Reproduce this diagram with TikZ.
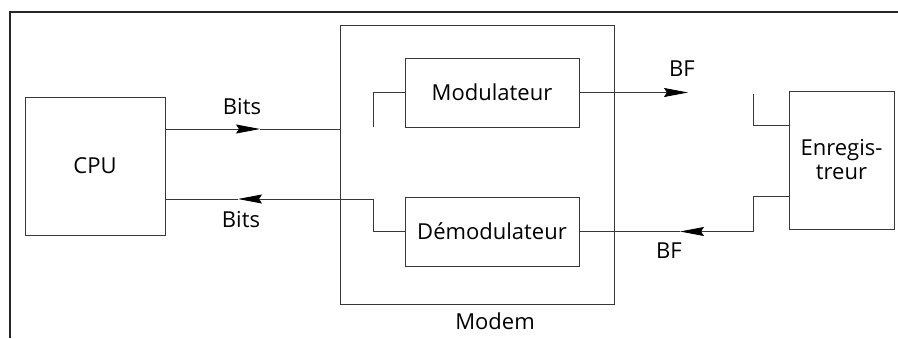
\documentclass[tikz,border=0pt]{standalone}
\usepackage{fontspec}
\setmainfont{Open Sans}
\usetikzlibrary{arrows.meta}
\begin{document}
\begin{tikzpicture}[x=1pt,y=-1pt,
  ln/.style={draw=black!78, line width=0.8pt},
  arr/.style={ln, -{Stealth[length=24pt,width=9pt,inset=3pt,color=black]}},
  blk/.style={ln, inner sep=0pt, font=\fontsize{22}{26}\selectfont},
  lbl/.style={inner sep=0pt, font=\fontsize{22}{26}\selectfont}]
\useasboundingbox (0,0) rectangle (898,338);
% frame
\coordinate (fTL) at (10,12);
\coordinate (fTR) at (898,12);
\coordinate (fBL) at (10,338);
\draw[draw=black!85, line width=1.5pt] (fTR) -- (fTL) -- (fBL);
% blocks
\node[blk, minimum width=140pt, minimum height=138pt] (cpu) at (95,166) {CPU};
\node[blk, minimum width=274pt, minimum height=279pt] (modem) at (477,164.5) {};
\node[blk, minimum width=174pt, minimum height=69pt] (mod) at (492,92.5) {Modulateur};
\node[blk, minimum width=174pt, minimum height=69pt] (dem) at (492,231.5) {Démodulateur};
\node[blk, minimum width=105pt, minimum height=138pt, align=center] (enr) at (841.5,160) {Enregis-\\[-2pt]treur};
% helper coordinates
\coordinate (yB1) at (0,129);
\coordinate (yB2) at (0,199);
\coordinate (tB1) at (260,129);
\coordinate (tB2) at (238,199);
\coordinate (mL) at (373,127);
\coordinate (dL) at (373,199);
\coordinate (tBF1) at (688,92.5);
\coordinate (tBF2) at (680,231.5);
\coordinate (eU) at (753,94);
\coordinate (eUc) at (753,125);
\coordinate (eLc) at (753,196);
\coordinate (eL) at (753,231.5);
% Bits forward
\draw[arr] (cpu.east |- yB1) -- (tB1);
\draw[ln] (tB1) -- (modem.west |- yB1);
% Bits back
\draw[arr] (modem.west |- yB2) -- (tB2);
\draw[ln] (tB2) -- (cpu.east |- yB2);
% modulator input stub
\draw[ln] (mod.west) -- (mod.west -| mL) -- (mL);
% demodulator input
\draw[ln] (modem.west |- yB2) -- (dL) -- (dL |- dem.west) -- (dem.west);
% modulator output
\draw[arr] (mod.east) -- (tBF1);
% demodulator output / BF back
\draw[ln] (dem.east) -- (tBF2);
\draw[arr] (eL) -- (tBF2);
% recorder stubs
\draw[ln] (eU) -- (eUc) -- (enr.west |- eUc);
\draw[ln] (enr.west |- eLc) -- (eLc) -- (eL);
% labels
\node[lbl] (lb1) at (242,107) {Bits};
\node[lbl] (lb2) at (241,220) {Bits};
\node[lbl] (lbf1) at (682,69) {BF};
\node[lbl] (lbf2) at (669,251) {BF};
\node[lbl] (lmodem) at (495,321) {Modem};
\end{tikzpicture}
\end{document}
